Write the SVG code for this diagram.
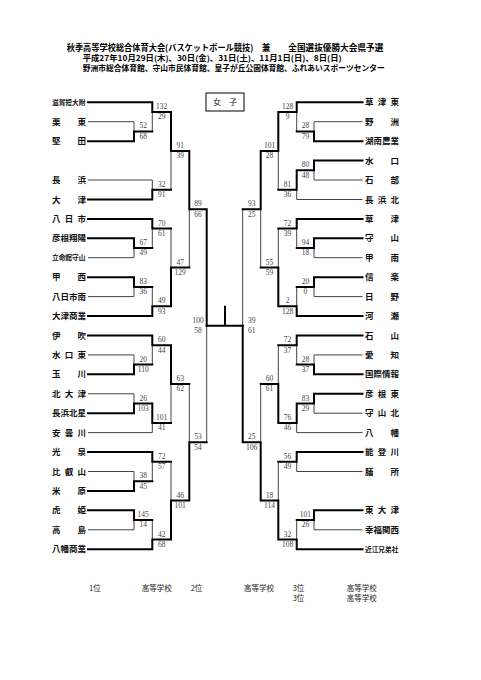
<svg xmlns="http://www.w3.org/2000/svg" width="481" height="680" viewBox="0 0 481 680">
<style>
.t{font-family:"Noto Sans CJK JP","Noto Sans",sans-serif;font-size:8.5px;font-weight:bold;fill:#111}
.ts{font-size:6.7px}
.h1{font-family:"Noto Sans CJK JP","Noto Sans",sans-serif;font-size:8.6px;font-weight:bold;fill:#000}
.h2{font-family:"Noto Sans CJK JP","Noto Sans",sans-serif;font-size:7.7px;font-weight:bold;fill:#000}
.f{font-family:"Noto Sans CJK JP","Noto Sans",sans-serif;font-size:7.5px;fill:#222}
.s{font-family:"Liberation Serif",serif;font-size:7.5px;fill:#444;text-anchor:middle}
#scores{opacity:0.99}
.thin{stroke:#444;stroke-width:1;fill:none}
.thick{stroke:#000;stroke-width:2;fill:none;stroke-linecap:square}
</style>
<rect width="481" height="680" fill="#fff"/>
<g id="title">
<text class="h1" x="66.7" y="50.5" textLength="186.6" lengthAdjust="spacingAndGlyphs">秋季高等学校総合体育大会(バスケットボール競技)</text>
<text class="h1" x="261.7" y="50.5">兼</text>
<text class="h1" x="288.3" y="50.5" textLength="95" lengthAdjust="spacingAndGlyphs">全国選抜優勝大会県予選</text>
<text class="h2" x="82.7" y="60.5" textLength="259" lengthAdjust="spacingAndGlyphs">平成27年10月29日(木)、30日(金)、31日(土)、11月1日(日)、8日(日)</text>
<text class="h2" x="82.7" y="70.5" textLength="302" lengthAdjust="spacingAndGlyphs">野洲市総合体育館、守山市民体育館、皇子が丘公園体育館、ふれあいスポーツセンター</text>
</g>
<g id="box-women">
<rect x="206" y="93" width="38" height="18" fill="none" stroke="#000" stroke-width="1"/>
<text class="t" x="213" y="105.2" style="font-weight:normal;font-size:8px">女</text>
<text class="t" x="229" y="105.2" style="font-weight:normal;font-size:8px">子</text>
</g>
<g id="connectors">
<path class="thin" d="M88 121.7H134M88 180H152.3M88 257.7H134M88 296.6H134M88 354.9H134M88 393.8H134M88 432.6H152.3M88 471.5H134M88 529.8H134
M134 121.7V131.4M152.3 112V131.4M152.3 180V189.7M171 150.9V189.7M134 248V257.7M152.3 228.6V248M134 286.9V296.6M152.3 286.9V306.3M171 228.6V267.5M189.3 209.2V267.5M134 354.9V364.6M152.3 345.2V364.6M134 393.8V403.5M152.3 422.9V432.6M171 384V422.9M152.3 461.8V481.2M134 471.5V481.2M134 520V529.8M152.3 520V539.5M171 461.8V500.6M189.3 384V442.3M206.7 325.7V442.3"/>
<path class="thin" d="M314 121.7H362.5M314 180H362.5M296.7 199.5H362.5M314 257.7H362.5M314 296.6H362.5M314 354.9H362.5M314 413.2H362.5M296.7 432.6H362.5M296.7 471.5H362.5M314 529.8H362.5
M314 121.7V131.4M296.7 112V131.4M314 170.3V180M296.7 189.7V199.5M278.3 150.9V189.7M314 248V257.7M296.7 228.6V248M314 286.9V296.6M296.7 286.9V306.3M278.3 228.6V267.5M260.7 209.2V267.5M314 354.9V364.6M296.7 345.2V364.6M314 403.5V413.2M296.7 422.9V432.6M278.3 345.2V384M296.7 461.8V471.5M314 520V529.8M296.7 520V539.5M278.3 461.8V500.6M260.7 384V442.3M242.7 209.2V325.7"/>
<path class="thick" d="M88 102.3H152.3M88 141.2H134M88 199.5H152.3M88 218.9H152.3M88 238.3H134M88 277.2H134M88 316H152.3M88 335.5H152.3M88 374.3H134M88 413.2H134M88 452H152.3M88 490.9H134M88 510.3H134M88 549.2H152.3
M134 131.4V141.2M134 131.4H152.3M152.3 102.3V112M152.3 112H171M152.3 189.7V199.5M152.3 189.7H171M171 112V150.9M171 150.9H189.3M134 238.3V248M134 248H152.3M152.3 218.9V228.6M152.3 228.6H171M134 277.2V286.9M134 286.9H152.3M152.3 306.3V316M152.3 306.3H171M171 267.5V306.3M171 267.5H189.3M189.3 150.9V209.2M189.3 209.2H206.7
M134 364.6V374.3M134 364.6H152.3M152.3 335.5V345.2M152.3 345.2H171M134 403.5V413.2M134 403.5H152.3M152.3 403.5V422.9M152.3 422.9H171M171 345.2V384M171 384H189.3M152.3 452V461.8M152.3 461.8H171M134 481.2V490.9M134 481.2H152.3M134 510.3V520M134 520H152.3M152.3 539.5V549.2M152.3 539.5H171M171 500.6V539.5M171 500.6H189.3M189.3 442.3V500.6M189.3 442.3H206.7M206.7 209.2V325.7"/>
<path class="thick" d="M296.7 102.3H362.5M314 141.2H362.5M314 160.6H362.5M296.7 218.9H362.5M314 238.3H362.5M314 277.2H362.5M296.7 316H362.5M296.7 335.5H362.5M314 374.3H362.5M314 393.8H362.5M296.7 452H362.5M314 510.3H362.5M296.7 549.2H362.5
M314 131.4V141.2M314 131.4H296.7M296.7 102.3V112M296.7 112H278.3M314 160.6V170.3M314 170.3H296.7M296.7 170.3V189.7M296.7 189.7H278.3M278.3 112V150.9M278.3 150.9H260.7M314 238.3V248M314 248H296.7M296.7 218.9V228.6M296.7 228.6H278.3M314 277.2V286.9M314 286.9H296.7M296.7 306.3V316M296.7 306.3H278.3M278.3 267.5V306.3M278.3 267.5H260.7M260.7 150.9V209.2M260.7 209.2H242.7
M314 364.6V374.3M314 364.6H296.7M296.7 335.5V345.2M296.7 345.2H278.3M314 393.8V403.5M314 403.5H296.7M296.7 403.5V422.9M296.7 422.9H278.3M278.3 384V422.9M278.3 384H260.7M296.7 452V461.8M296.7 461.8H278.3M314 510.3V520M314 520H296.7M296.7 539.5V549.2M296.7 539.5H278.3M278.3 500.6V539.5M278.3 500.6H260.7M260.7 442.3V500.6M260.7 442.3H242.7M242.7 325.7V442.3"/>
<path class="thick" d="M206.7 325.7H242.7M225 306.7V325.7"/>
</g>
<g id="scores">
<text class="s" x="143.2" y="128.4">52</text><text class="s" x="143.2" y="138.7">68</text>
<text class="s" x="161.7" y="109">132</text><text class="s" x="161.7" y="119.3">29</text>
<text class="s" x="161.7" y="186.7">32</text><text class="s" x="161.7" y="197">91</text>
<text class="s" x="180.2" y="147.9">91</text><text class="s" x="180.2" y="158.2">39</text>
<text class="s" x="143.2" y="245">67</text><text class="s" x="143.2" y="255.3">49</text>
<text class="s" x="161.7" y="225.6">70</text><text class="s" x="161.7" y="235.9">61</text>
<text class="s" x="143.2" y="283.9">83</text><text class="s" x="143.2" y="294.2">36</text>
<text class="s" x="161.7" y="303.3">49</text><text class="s" x="161.7" y="313.6">93</text>
<text class="s" x="180.2" y="264.5">47</text><text class="s" x="180.2" y="274.8">129</text>
<text class="s" x="198" y="206.2">89</text><text class="s" x="198" y="216.5">66</text>
<text class="s" x="143.2" y="361.6">20</text><text class="s" x="143.2" y="371.9">110</text>
<text class="s" x="161.7" y="342.2">60</text><text class="s" x="161.7" y="352.5">44</text>
<text class="s" x="143.2" y="400.5">26</text><text class="s" x="143.2" y="410.8">103</text>
<text class="s" x="161.7" y="419.9">101</text><text class="s" x="161.7" y="430.2">41</text>
<text class="s" x="180.2" y="381">63</text><text class="s" x="180.2" y="391.3">62</text>
<text class="s" x="161.7" y="458.8">72</text><text class="s" x="161.7" y="469.1">57</text>
<text class="s" x="143.2" y="478.2">38</text><text class="s" x="143.2" y="488.5">45</text>
<text class="s" x="143.2" y="517">145</text><text class="s" x="143.2" y="527.3">14</text>
<text class="s" x="161.7" y="536.5">42</text><text class="s" x="161.7" y="546.8">68</text>
<text class="s" x="180.2" y="497.6">46</text><text class="s" x="180.2" y="507.9">101</text>
<text class="s" x="198" y="439.3">53</text><text class="s" x="198" y="449.6">54</text>
<text class="s" x="198" y="322.7">100</text><text class="s" x="198" y="333">58</text>
<text class="s" x="305.4" y="128.4">28</text><text class="s" x="305.4" y="138.7">79</text>
<text class="s" x="287.5" y="109">128</text><text class="s" x="287.5" y="119.3">9</text>
<text class="s" x="305.4" y="167.3">80</text><text class="s" x="305.4" y="177.6">48</text>
<text class="s" x="287.5" y="186.7">81</text><text class="s" x="287.5" y="197">36</text>
<text class="s" x="269.5" y="147.9">101</text><text class="s" x="269.5" y="158.2">28</text>
<text class="s" x="305.4" y="245">94</text><text class="s" x="305.4" y="255.3">18</text>
<text class="s" x="287.5" y="225.6">72</text><text class="s" x="287.5" y="235.9">39</text>
<text class="s" x="305.4" y="283.9">20</text><text class="s" x="305.4" y="294.2">0</text>
<text class="s" x="287.5" y="303.3">2</text><text class="s" x="287.5" y="313.6">128</text>
<text class="s" x="269.5" y="264.5">55</text><text class="s" x="269.5" y="274.8">59</text>
<text class="s" x="251.7" y="206.2">93</text><text class="s" x="251.7" y="216.5">25</text>
<text class="s" x="305.4" y="361.6">28</text><text class="s" x="305.4" y="371.9">37</text>
<text class="s" x="287.5" y="342.2">72</text><text class="s" x="287.5" y="352.5">37</text>
<text class="s" x="305.4" y="400.5">83</text><text class="s" x="305.4" y="410.8">29</text>
<text class="s" x="287.5" y="419.9">76</text><text class="s" x="287.5" y="430.2">46</text>
<text class="s" x="269.5" y="381">60</text><text class="s" x="269.5" y="391.3">61</text>
<text class="s" x="287.5" y="458.8">56</text><text class="s" x="287.5" y="469.1">49</text>
<text class="s" x="305.4" y="517">101</text><text class="s" x="305.4" y="527.3">26</text>
<text class="s" x="287.5" y="536.5">32</text><text class="s" x="287.5" y="546.8">108</text>
<text class="s" x="269.5" y="497.6">18</text><text class="s" x="269.5" y="507.9">114</text>
<text class="s" x="251.7" y="439.3">25</text><text class="s" x="251.7" y="449.6">106</text>
<text class="s" x="251.7" y="322.7">39</text><text class="s" x="251.7" y="333">61</text>
</g>
<g id="teams-left">
<g id="L01"><text class="t ts" x="52" y="104.7">滋賀短大附</text></g>
<g id="L02"><text class="t" x="52 77.5" y="124.8">栗東</text></g>
<g id="L03"><text class="t" x="52 77.5" y="144.3">堅田</text></g>
<g id="L04"><text class="t" x="52 77.5" y="183.1">長浜</text></g>
<g id="L05"><text class="t" x="52 77.5" y="202.6">大津</text></g>
<g id="L06"><text class="t" x="52 64.75 77.5" y="222">八日市</text></g>
<g id="L07"><text class="t" x="52" y="241.4">彦根翔陽</text></g>
<g id="L08"><text class="t ts" x="52" y="260.1">立命館守山</text></g>
<g id="L09"><text class="t" x="52 77.5" y="280.3">甲西</text></g>
<g id="L10"><text class="t" x="52" y="299.7">八日市南</text></g>
<g id="L11"><text class="t" x="52" y="319.1">大津商業</text></g>
<g id="L12"><text class="t" x="52 77.5" y="338.6">伊吹</text></g>
<g id="L13"><text class="t" x="52 64.75 77.5" y="358">水口東</text></g>
<g id="L14"><text class="t" x="52 77.5" y="377.4">玉川</text></g>
<g id="L15"><text class="t" x="52 64.75 77.5" y="396.9">北大津</text></g>
<g id="L16"><text class="t" x="52" y="416.3">長浜北星</text></g>
<g id="L17"><text class="t" x="52 64.75 77.5" y="435.7">安曇川</text></g>
<g id="L18"><text class="t" x="52 77.5" y="455.1">光泉</text></g>
<g id="L19"><text class="t" x="52 64.75 77.5" y="474.6">比叡山</text></g>
<g id="L20"><text class="t" x="52 77.5" y="494">米原</text></g>
<g id="L21"><text class="t" x="52 77.5" y="513.4">虎姫</text></g>
<g id="L22"><text class="t" x="52 77.5" y="532.9">高島</text></g>
<g id="L23"><text class="t" x="52" y="552.3">八幡商業</text></g>
</g>
<g id="teams-right">
<g id="R01"><text class="t" x="365 377.75 390.5" y="105.4">草津東</text></g>
<g id="R02"><text class="t" x="365 390.5" y="124.8">野洲</text></g>
<g id="R03"><text class="t" x="365" y="144.3">湖南農業</text></g>
<g id="R04"><text class="t" x="365 390.5" y="163.7">水口</text></g>
<g id="R05"><text class="t" x="365 390.5" y="183.1">石部</text></g>
<g id="R06"><text class="t" x="365 377.75 390.5" y="202.6">長浜北</text></g>
<g id="R07"><text class="t" x="365 390.5" y="222">草津</text></g>
<g id="R08"><text class="t" x="365 390.5" y="241.4">守山</text></g>
<g id="R09"><text class="t" x="365 390.5" y="260.8">甲南</text></g>
<g id="R10"><text class="t" x="365 390.5" y="280.3">信楽</text></g>
<g id="R11"><text class="t" x="365 390.5" y="299.7">日野</text></g>
<g id="R12"><text class="t" x="365 390.5" y="319.1">河瀬</text></g>
<g id="R13"><text class="t" x="365 390.5" y="338.6">石山</text></g>
<g id="R14"><text class="t" x="365 390.5" y="358">愛知</text></g>
<g id="R15"><text class="t" x="365" y="377.4">国際情報</text></g>
<g id="R16"><text class="t" x="365 377.75 390.5" y="396.9">彦根東</text></g>
<g id="R17"><text class="t" x="365 377.75 390.5" y="416.3">守山北</text></g>
<g id="R18"><text class="t" x="365 390.5" y="435.7">八幡</text></g>
<g id="R19"><text class="t" x="365 377.75 390.5" y="455.1">能登川</text></g>
<g id="R20"><text class="t" x="365 390.5" y="474.6">膳所</text></g>
<g id="R21"><text class="t" x="365 377.75 390.5" y="513.4">東大津</text></g>
<g id="R22"><text class="t" x="365" y="532.9">幸福関西</text></g>
<g id="R23"><text class="t ts" x="365" y="551.6">近江兄弟社</text></g>
</g>
<g id="footer">
<text class="f" x="89" y="590.7">1位</text>
<text class="f" x="141.7" y="590.7">高等学校</text>
<text class="f" x="190.7" y="590.7">2位</text>
<text class="f" x="244" y="590.7">高等学校</text>
<text class="f" x="292.7" y="590.7">3位</text>
<text class="f" x="346.7" y="590.7">高等学校</text>
<text class="f" x="292.7" y="600.7">3位</text>
<text class="f" x="346.7" y="600.7">高等学校</text>
</g>
</svg>
